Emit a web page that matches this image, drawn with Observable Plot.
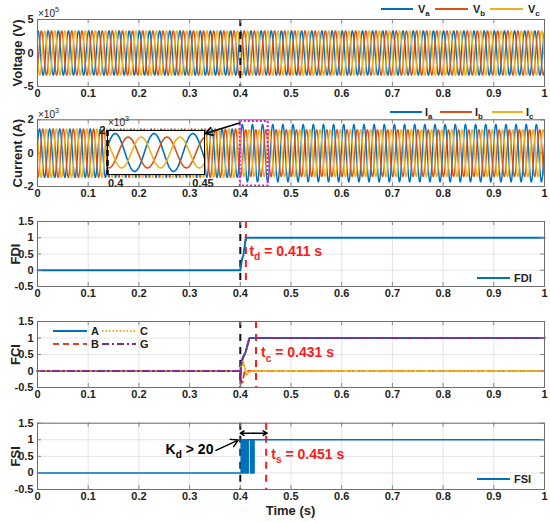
<!DOCTYPE html>
<html><head><meta charset="utf-8">
<script src="https://cdn.jsdelivr.net/npm/d3@7"></script>
<script src="https://cdn.jsdelivr.net/npm/@observablehq/plot@0.6"></script>
<style>
body{margin:0;background:#fff;}
#wrap{position:relative;width:550px;height:522px;overflow:hidden;background:#fff;}
#wrap svg{position:absolute;overflow:visible;}
</style></head><body><div id="wrap"></div>
<script>
// ---------------- data ----------------
const xTicks = [0, 0.1, 0.2, 0.3, 0.4, 0.5, 0.6, 0.7, 0.8, 0.9, 1];
const voltageTicks = [-5, 0, 5];          // ×10^5 V
const currentTicks = [-2, 0, 2];          // ×10^3 A
const indexTicks = [-0.5, 0, 0.5, 1, 1.5];
const phaseNames = ["a", "b", "c"];
const phaseColors = ["#0072BD", "#D95319", "#EDB120"];
const phaseOffsetDeg = [0, -120, 120];
const systemFreqHz = 50;
const voltagePeakE5 = [3.3, 3.3, 3.3];
const voltagePeakTime = 0.001;
const currentPeakPreE3 = [1.45, 1.45, 1.45];
const currentPeakPostE3 = [1.72, 1.4, 1.4];
const currentPeakTime = 0.004;
const sampleStep = 0.0002;
const faultTime = 0.4;
const zoomWindow = [0.4, 0.45];
const zoomBox = [0.4, 0.455, -1.97, 1.9];
const tdTime = 0.411, tcTime = 0.431, tsTime = 0.451;

const fdiT = [0, 0.4, 0.4035, 0.406, 0.411, 1];
const fdiV = [0, 0, 0.35, 0.45, 1, 1];

const fciNames = ["A", "B", "C", "G"];
const fciColors = ["#0072BD", "#E8401C", "#EDB120", "#7E2F8E"];
const fciDash = [null, "6,4", "1.5,2", "7,3,2,3"];
const fciAT = [0, 0.4, 0.402, 0.405, 0.41, 0.418, 1];
const fciAV = [0, 0, 0.25, 0.4, 0.55, 1, 1];
const fciBT = [0, 0.4, 0.401, 0.404, 0.408, 0.412, 0.416, 1];
const fciBV = [0, 0, -0.3, -0.35, -0.05, 0.02, 0, 0];
const fciCT = [0, 0.4, 0.405, 0.409, 0.412, 0.418, 0.425, 1];
const fciCV = [0, 0, 0.3, 0.1, -0.12, -0.02, 0, 0];
const fciGT = [0, 0.3995, 0.4005, 0.4015, 0.405, 0.41, 0.418, 1];
const fciGV = [0, 0, -0.4, 0.15, 0.4, 0.55, 1, 1];

const fsiT = [0, 0.4018, 0.4028, 0.4038, 0.4048, 0.4058, 0.4068, 0.4078,
  0.4103, 0.4113, 0.4123, 0.4133, 0.4143, 0.4155,
  0.4201, 0.4211, 0.4221, 0.4231, 0.4241, 0.4251, 0.4261, 0.4271, 1];
const fsiV = [0, 1, 0, 1, 0, 1, 0, 1,
  0, 1, 0, 1, 0, 1,
  0, 1, 0, 1, 0, 1, 0, 1, 1];

// annotation anchors (data units)
const tdLabel = {x: 0.418, y: 0.58};
const tcLabel = {x: 0.441, y: 0.55};
const tsLabel = {x: 0.461, y: 0.57};
const kdLabel = {x: 0.347, y: 0.72, text: "K_d > 20"};
const kdArrow = {x1: 0.352, y1: 0.68, x2: 0.396, y2: 0.99};
const spanArrowY = 1.2;
const zoomArrow = {x1: 0.4, y1: 1.82, x2: 0.331, y2: 1.18};

// ---------------- helpers ----------------
const FONT = '"Liberation Sans", Arial, Helvetica, sans-serif';
const GRID = "#e4e4e4", TICK = "#8a8a8a", FRAME = "#6f6f6f", INK = "#222";
const W = 550, ML = 37, MR = 6;
const wrap = document.getElementById("wrap");
const toSeries = (T, V) => T.map((t, i) => ({t, v: V[i]}));
const times = d3.range(0, 1 + sampleStep / 2, sampleStep);
const w = 2 * Math.PI * systemFreqHz;
function wave(peakFn, tp, k) {
  const off = phaseOffsetDeg[k] * Math.PI / 180;
  return times.map(t => ({t, v: peakFn(t, k) * Math.cos(w * (t - tp) + off)}));
}
const voltage = phaseNames.map((_, k) => wave((t, k) => voltagePeakE5[k], voltagePeakTime, k));
const current = phaseNames.map((_, k) => wave((t, k) => t < faultTime ? currentPeakPreE3[k] : currentPeakPostE3[k], currentPeakTime, k));

function enrich(svg) {
  d3.select(svg).selectAll("text").each(function () {
    const s = this.textContent;
    if (!/[_^]/.test(s)) return;
    const fs = parseFloat(getComputedStyle(this).fontSize) || 11;
    const el = d3.select(this);
    el.text(null);
    const parts = s.split(/([_^].)/);
    let shift = 0;
    for (const p of parts) {
      if (!p) continue;
      if (p[0] === "_" || p[0] === "^") {
        const d = (p[0] === "_" ? 0.32 : -0.42) * fs;
        el.append("tspan").attr("dy", d - shift).style("font-size", (fs * 0.72) + "px").text(p[1]);
        shift = d;
      } else {
        const ts = el.append("tspan");
        if (shift) { ts.attr("dy", -shift); shift = 0; }
        ts.text(p);
      }
    }
  });
}

function addText(svg, x, y, str, opts = {}) {
  return d3.select(svg).append("text").attr("x", x).attr("y", y)
    .attr("font-size", opts.size || 11).attr("font-weight", opts.weight || "bold")
    .attr("fill", opts.fill || INK).attr("text-anchor", opts.anchor || "start")
    .attr("dy", "0.35em").attr("font-family", FONT).text(str);
}
function addLegend(svg, items, y) {
  for (const it of items) {
    d3.select(svg).append("line").attr("x1", it.x1).attr("x2", it.x2).attr("y1", it.y ?? y).attr("y2", it.y ?? y)
      .attr("stroke", it.color).attr("stroke-width", 2).attr("stroke-dasharray", it.dash || null);
    addText(svg, it.x2 + (it.gap ?? 4), it.y ?? y, it.label, {size: 11});
  }
}

function panel({top, height, mt, mb, yDomain, yTicks, marks, ylabel, ylabelDx = -20}) {
  const ph = height - mt - mb, pw = W - ML - MR;
  const svg = Plot.plot({
    width: W, height, marginLeft: ML, marginRight: MR, marginTop: mt, marginBottom: mb,
    style: {fontFamily: FONT, fontSize: "11px", fontWeight: "bold", color: INK, background: "transparent", overflow: "visible"},
    x: {domain: [0, 1]},
    y: {domain: yDomain},
    marks: [
      Plot.gridX(xTicks, {stroke: GRID, strokeOpacity: 1}),
      Plot.gridY(yTicks, {stroke: GRID, strokeOpacity: 1}),
      ...marks,
      Plot.ruleX(xTicks, {x: d => d, insetTop: ph - 4, stroke: TICK}),
      Plot.ruleX(xTicks, {x: d => d, insetBottom: ph - 4, stroke: TICK}),
      Plot.ruleY(yTicks, {y: d => d, insetRight: pw - 4, stroke: TICK}),
      Plot.ruleY(yTicks, {y: d => d, insetLeft: pw - 4, stroke: TICK}),
      Plot.frame({stroke: FRAME}),
      Plot.axisX(xTicks, {tickSize: 0, tickPadding: 3, tickFormat: d => String(d), label: null}),
      Plot.axisY(yTicks, {tickSize: 0, tickPadding: 4, tickFormat: d => String(d), label: null}),
      Plot.text([ylabel], {text: d => d, frameAnchor: "left", dx: ylabelDx, rotate: -90, textAnchor: "middle", lineAnchor: "middle", fontSize: 13, fontWeight: "bold", fill: INK})
    ]
  });
  svg.style.top = top + "px";
  svg.style.left = "0px";
  wrap.appendChild(svg);
  return svg;
}

const vline = (x, color) => Plot.ruleX([x], {x: d => d, stroke: color, strokeWidth: 2, strokeDasharray: "7,6"});

// ---------------- panel 1: voltage ----------------
const p1 = panel({
  top: 0, height: 100, mt: 19, mb: 14, yDomain: [-5, 5], yTicks: voltageTicks, ylabel: "Voltage (V)",
  marks: [
    ...voltage.map((s, k) => Plot.line(s, {x: "t", y: "v", stroke: phaseColors[k], strokeWidth: 1.4})),
    vline(faultTime, "#111")
  ]
});
addText(p1, 38, 13, "×10^5", {size: 10, weight: "normal"});
addLegend(p1, phaseNames.map((n, k) => ({x1: [381, 435, 490][k], x2: [413, 468, 523][k], color: phaseColors[k], label: "V_" + n, gap: 5})), 9);

// ---------------- panel 2: current ----------------
const p2 = panel({
  top: 100, height: 105, mt: 19.3, mb: 19, yDomain: [-2, 2], yTicks: currentTicks, ylabel: "Current (A)",
  marks: [
    ...current.map((s, k) => Plot.line(s, {x: "t", y: "v", stroke: phaseColors[k], strokeWidth: 1.4})),
    Plot.rect([zoomBox], {x1: d => d[0], x2: d => d[1], y1: d => d[2], y2: d => d[3], fill: "none", stroke: "#ff00ff", strokeWidth: 2, strokeDasharray: "2,2"}),
    Plot.arrow([zoomArrow], {x1: "x1", y1: "y1", x2: "x2", y2: "y2", stroke: "#000", strokeWidth: 1.5, headLength: 8})
  ]
});
addText(p2, 38, 14, "×10^3", {size: 10, weight: "normal"});
addLegend(p2, phaseNames.map((n, k) => ({x1: [390, 440, 492][k], x2: [422, 472, 523][k], color: phaseColors[k], label: "I_" + n, gap: 3})), 12);

// inset (zoom of 0.4–0.45 s)
const inset = Plot.plot({
  width: 97, height: 44, marginLeft: 0, marginRight: 0, marginTop: 0, marginBottom: 0,
  style: {fontFamily: FONT, fontSize: "11px", fontWeight: "bold", color: INK, background: "#fff", overflow: "visible"},
  x: {domain: zoomWindow, axis: null}, y: {domain: [-2, 2], axis: null},
  marks: [
    ...current.map((s, k) => Plot.line(s.filter(d => d.t >= zoomWindow[0] && d.t <= zoomWindow[1]), {x: "t", y: "v", stroke: phaseColors[k], strokeWidth: 1.6})),
    Plot.frame({stroke: "#000"}),
    Plot.ruleX([zoomWindow[0]], {x: d => d, stroke: "#000", strokeWidth: 2.5, strokeDasharray: "6,4"})
  ]
});
inset.style.left = "107px";
inset.style.top = "130px";
wrap.appendChild(inset);
addText(inset, -1.5, 0, "2", {size: 11, anchor: "end"});
addText(inset, 1, -8, "×10^3", {size: 10, weight: "normal"});
addText(inset, 1, 53, String(zoomWindow[0]), {size: 11});
addText(inset, 96, 53, String(zoomWindow[1]), {size: 11, anchor: "middle"});

// ---------------- panel 3: FDI ----------------
const p3 = panel({
  top: 205, height: 100, mt: 16, mb: 19, yDomain: [-0.5, 1.5], yTicks: indexTicks, ylabel: "FDI", ylabelDx: -22,
  marks: [
    vline(faultTime, "#111"),
    vline(tdTime, "#ff1a1a"),
    Plot.line(toSeries(fdiT, fdiV), {x: "t", y: "v", stroke: "#0072BD", strokeWidth: 2}),
    Plot.text([tdLabel], {x: "x", y: "y", text: () => `t_d = ${tdTime} s`, fill: "#ff1a1a", fontSize: 14, fontWeight: "bold", textAnchor: "start"})
  ]
});
addLegend(p3, [{x1: 477, x2: 510, color: "#0072BD", label: "FDI"}], 73);

// ---------------- panel 4: FCI ----------------
const fciSeries = [toSeries(fciAT, fciAV), toSeries(fciBT, fciBV), toSeries(fciCT, fciCV), toSeries(fciGT, fciGV)];
const p4 = panel({
  top: 305, height: 105, mt: 16, mb: 23, yDomain: [-0.5, 1.5], yTicks: indexTicks, ylabel: "FCI", ylabelDx: -22,
  marks: [
    vline(faultTime, "#111"),
    vline(tcTime, "#ff1a1a"),
    ...fciSeries.map((s, k) => Plot.line(s, {x: "t", y: "v", stroke: fciColors[k], strokeWidth: 2, strokeDasharray: fciDash[k]})),
    Plot.text([tcLabel], {x: "x", y: "y", text: () => `t_c = ${tcTime} s`, fill: "#ff1a1a", fontSize: 14, fontWeight: "bold", textAnchor: "start"})
  ]
});
addLegend(p4, [
  {x1: 53, x2: 87, y: 26, color: fciColors[0], dash: fciDash[0], label: fciNames[0]},
  {x1: 53, x2: 87, y: 39, color: fciColors[1], dash: fciDash[1], label: fciNames[1]},
  {x1: 102, x2: 136, y: 26, color: fciColors[2], dash: fciDash[2], label: fciNames[2]},
  {x1: 102, x2: 136, y: 39, color: fciColors[3], dash: fciDash[3], label: fciNames[3]}
], 26);

// ---------------- panel 5: FSI ----------------
const p5 = panel({
  top: 410, height: 112, mt: 12.7, mb: 33, yDomain: [-0.5, 1.5], yTicks: indexTicks, ylabel: "FSI", ylabelDx: -22,
  marks: [
    vline(faultTime, "#111"),
    vline(tsTime, "#ff1a1a"),
    Plot.line(toSeries(fsiT, fsiV), {x: "t", y: "v", stroke: "#0072BD", strokeWidth: 1.6, curve: "step-after"}),
    Plot.arrow([{x1: (faultTime + tsTime) / 2, x2: faultTime}, {x1: (faultTime + tsTime) / 2, x2: tsTime + 0.002}], {x1: "x1", x2: "x2", y1: () => spanArrowY, y2: () => spanArrowY, stroke: "#000", strokeWidth: 1.5, headLength: 7}),
    Plot.arrow([kdArrow], {x1: "x1", y1: "y1", x2: "x2", y2: "y2", stroke: "#000", strokeWidth: 1.5, headLength: 8}),
    Plot.text([kdLabel], {x: "x", y: "y", text: "text", fill: "#000", fontSize: 14, fontWeight: "bold", textAnchor: "end"}),
    Plot.text([tsLabel], {x: "x", y: "y", text: () => `t_s = ${tsTime} s`, fill: "#ff1a1a", fontSize: 14, fontWeight: "bold", textAnchor: "start"})
  ]
});
addLegend(p5, [{x1: 477, x2: 510, color: "#0072BD", label: "FSI"}], 69);
addText(p5, (ML + W - MR) / 2, 100, "Time (s)", {size: 13, anchor: "middle"});

[p1, p2, inset, p3, p4, p5].forEach(enrich);
</script></body></html>
